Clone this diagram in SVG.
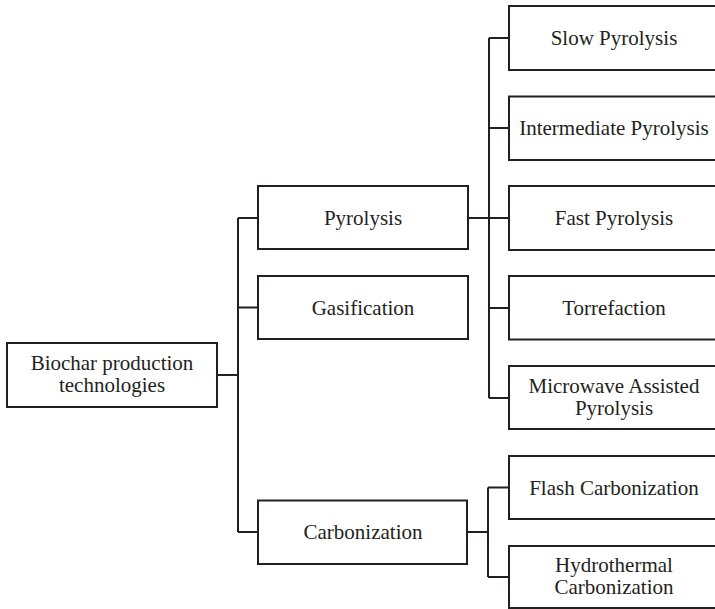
<svg xmlns="http://www.w3.org/2000/svg" width="715" height="609" viewBox="0 0 715 609">
  <style>
    .box { fill: #ffffff; stroke: #231f20; stroke-width: 2; }
    .lbl { font-family: "Liberation Serif", "Times New Roman", serif; font-size: 21px; fill: #231f20; text-anchor: middle; }
    .wire { fill: none; stroke: #231f20; stroke-width: 2; }
  </style>
  <rect width="715" height="609" fill="#ffffff"/>

  <!-- connectors -->
  <g id="connectors" class="wire">
    <path d="M217 375 H238"/>
    <path d="M238 218 V532"/>
    <path d="M238 218 H258 M238 307.5 H258 M238 532 H258"/>
    <path d="M468 218 H489"/>
    <path d="M489 38 V398"/>
    <path d="M489 38 H509 M489 128 H509 M489 218 H509 M489 308 H509 M489 398 H509"/>
    <path d="M467 532 H488"/>
    <path d="M488 487.5 V577"/>
    <path d="M488 487.5 H509 M488 577 H509"/>
  </g>

  <g id="root">
    <rect class="box" x="7" y="343" width="210" height="64"/>
    <text class="lbl" x="112" y="370">Biochar production</text>
    <text class="lbl" x="112" y="392">technologies</text>
  </g>

  <g id="pyrolysis">
    <rect class="box" x="258" y="186" width="210" height="63"/>
    <text class="lbl" x="363" y="225">Pyrolysis</text>
  </g>
  <g id="gasification">
    <rect class="box" x="258" y="276" width="210" height="63"/>
    <text class="lbl" x="363" y="314.5">Gasification</text>
  </g>
  <g id="carbonization">
    <rect class="box" x="258" y="500.5" width="209" height="63.5"/>
    <text class="lbl" x="363" y="539">Carbonization</text>
  </g>

  <g id="slow-pyrolysis">
    <rect class="box" x="509" y="6" width="212" height="64"/>
    <text class="lbl" x="614" y="45">Slow Pyrolysis</text>
  </g>
  <g id="intermediate-pyrolysis">
    <rect class="box" x="509" y="96.5" width="212" height="63.5"/>
    <text class="lbl" x="614" y="135">Intermediate Pyrolysis</text>
  </g>
  <g id="fast-pyrolysis">
    <rect class="box" x="509" y="186" width="212" height="64"/>
    <text class="lbl" x="614" y="225">Fast Pyrolysis</text>
  </g>
  <g id="torrefaction">
    <rect class="box" x="509" y="276" width="212" height="63.5"/>
    <text class="lbl" x="614" y="315">Torrefaction</text>
  </g>
  <g id="microwave-pyrolysis">
    <rect class="box" x="509" y="366" width="212" height="63"/>
    <text class="lbl" x="614" y="392.5">Microwave Assisted</text>
    <text class="lbl" x="614" y="414.5">Pyrolysis</text>
  </g>

  <g id="flash-carbonization">
    <rect class="box" x="509" y="456" width="212" height="63"/>
    <text class="lbl" x="614" y="494.5">Flash Carbonization</text>
  </g>
  <g id="hydrothermal-carbonization">
    <rect class="box" x="509" y="546" width="212" height="62"/>
    <text class="lbl" x="614" y="572">Hydrothermal</text>
    <text class="lbl" x="614" y="594">Carbonization</text>
  </g>
</svg>
